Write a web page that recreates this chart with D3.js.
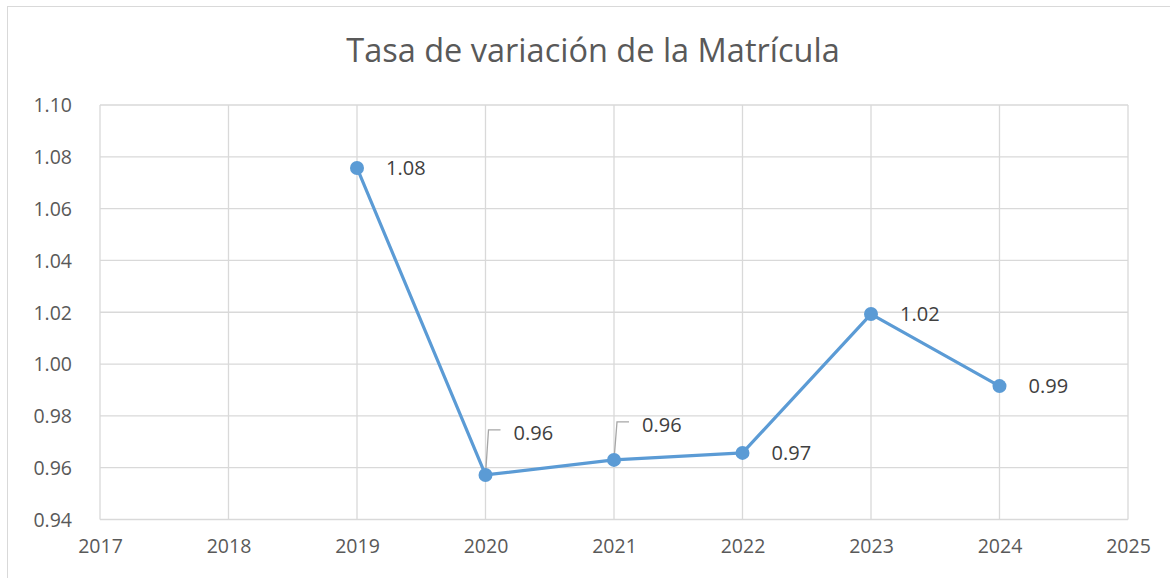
<!DOCTYPE html>
<html>
<head>
<meta charset="utf-8">
<script src="https://cdn.jsdelivr.net/npm/d3@7"></script>
<style>
  body { margin: 0; background: #fff; }
  text { font-family: "Open Sans", "Liberation Sans", sans-serif; fill: #595959; }
</style>
</head>
<body>
<svg id="chart" width="1170" height="578"></svg>
<script>
// data
var years = [2019, 2020, 2021, 2022, 2023, 2024];
var rates = [1.0757, 0.9572, 0.9630, 0.9657, 1.0193, 0.9915];
var labels = ["1.08", "0.96", "0.96", "0.97", "1.02", "0.99"];
var xTicks = [2017, 2018, 2019, 2020, 2021, 2022, 2023, 2024, 2025];
var yTicks = [0.94, 0.96, 0.98, 1.00, 1.02, 1.04, 1.06, 1.08, 1.10];
// label lift in px (0 = beside the point, otherwise pushed up with a leader line)
var lift = [0, 45, 38, 0, 0, 0];

var svg = d3.select("#chart");
var W = 1170, H = 578;
var m = {left: 100, right: 1128, top: 105, bottom: 519.5};

// chart frame
svg.append("rect")
	.attr("x", 7.5).attr("y", 6.5)
	.attr("width", W + 10).attr("height", H + 10)
	.attr("fill", "#fff")
	.attr("stroke", "#d9d9d9").attr("stroke-width", 1);

var x = d3.scaleLinear().domain([2017, 2025]).range([m.left, m.right]);
var y = d3.scaleLinear().domain([0.94, 1.10]).range([m.bottom, m.top]);

// gridlines
svg.append("g").selectAll("line.h").data(yTicks).enter().append("line")
	.attr("x1", m.left).attr("x2", m.right)
	.attr("y1", function (d) { return y(d); }).attr("y2", function (d) { return y(d); })
	.attr("stroke", "#d9d9d9").attr("stroke-width", 1.3);
svg.append("g").selectAll("line.v").data(xTicks).enter().append("line")
	.attr("y1", m.top).attr("y2", m.bottom)
	.attr("x1", function (d) { return x(d); }).attr("x2", function (d) { return x(d); })
	.attr("stroke", "#d9d9d9").attr("stroke-width", 1.3);

// axes (labels only, like the original)
var yAxis = svg.append("g")
	.attr("transform", "translate(" + (m.left - 28) + ",0)")
	.call(d3.axisLeft(y).tickValues(yTicks).tickFormat(d3.format(".2f")).tickSize(0));
yAxis.select(".domain").remove();
yAxis.selectAll("text")
	.attr("x", 0).attr("dy", "0.35em")
	.style("font-size", "19.5px").style("font-family", "'Open Sans', sans-serif").attr("fill", "#595959");

var xAxis = svg.append("g")
	.attr("transform", "translate(0," + (m.bottom + 20) + ")")
	.call(d3.axisBottom(x).tickValues(xTicks).tickFormat(d3.format("d")).tickSize(0));
xAxis.select(".domain").remove();
xAxis.selectAll("text")
	.attr("y", 0).attr("dy", "0.71em")
	.style("font-size", "19.5px").style("font-family", "'Open Sans', sans-serif").attr("fill", "#595959");

// title
svg.append("text")
	.attr("x", 593).attr("y", 62)
	.attr("text-anchor", "middle")
	.style("font-size", "32.5px")
	.text("Tasa de variación de la Matrícula");

// series
var pts = years.map(function (d, i) { return {year: d, v: rates[i], lab: labels[i], lift: lift[i]}; });

svg.append("path")
	.datum(pts)
	.attr("fill", "none")
	.attr("stroke", "#5b9bd5").attr("stroke-width", 3.2)
	.attr("stroke-linejoin", "round")
	.attr("d", d3.line().x(function (d) { return x(d.year); }).y(function (d) { return y(d.v); }));

// leader lines for the lifted labels
svg.append("g").selectAll("path").data(pts.filter(function (d) { return d.lift > 0; })).enter().append("path")
	.attr("fill", "none").attr("stroke", "#a6a6a6").attr("stroke-width", 1.3)
	.attr("d", function (d) {
		var px = x(d.year), py = y(d.v);
		return "M" + px + "," + py + " L" + (px + 3) + "," + (py - d.lift) + " L" + (px + 15) + "," + (py - d.lift);
	});

svg.append("g").selectAll("circle").data(pts).enter().append("circle")
	.attr("cx", function (d) { return x(d.year); })
	.attr("cy", function (d) { return y(d.v); })
	.attr("r", 7)
	.attr("fill", "#5b9bd5");

svg.append("g").selectAll("text").data(pts).enter().append("text")
	.attr("x", function (d) { return x(d.year) + (d.lift ? 28 : 29); })
	.attr("y", function (d) { return y(d.v) - (d.lift ? d.lift - 3 : 0); })
	.attr("dy", "0.35em")
	.style("font-size", "20px")
	.style("fill", "#404040")
	.text(function (d) { return d.lab; });
</script>
</body>
</html>
